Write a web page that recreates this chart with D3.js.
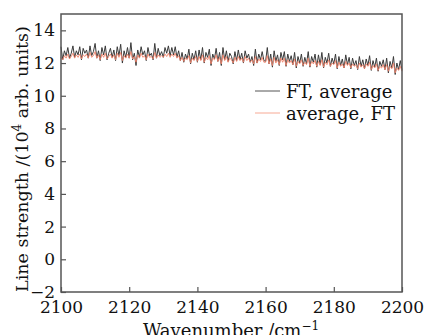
<!DOCTYPE html>
<html>
<head>
<meta charset="utf-8">
<script src="https://cdn.jsdelivr.net/npm/d3@7"></script>
<style>
  html, body { margin: 0; padding: 0; background: #fff; }
  svg { display: block; }
  svg text { font-family: "DejaVu Serif", "Liberation Serif", serif; }
</style>
</head>
<body>
<div id="chart"></div>
<script>
// wavenumber grid: 2100 .. 2200 cm^-1, one value every 0.5
const waveStart = 2100;
const waveStep = 0.5;

// FT, average (dark line), 10^4 arb. units
const ftAverage = [
  13.0, 12.2, 12.75, 12.45, 12.95, 12.3, 12.6, 13.05, 12.35, 12.75,
  12.5, 13.0, 12.2, 12.9, 12.6, 12.8, 12.3, 13.05, 12.45, 12.7,
  13.2, 12.3, 12.75, 12.15, 12.95, 12.5, 13.05, 12.2, 12.6, 12.9,
  12.35, 12.8, 12.15, 13.0, 12.45, 13.15, 12.0, 12.75, 12.35, 12.95,
  12.3, 13.25, 12.2, 12.6, 11.85, 12.8, 12.35, 13.0, 12.5, 12.75,
  12.15, 12.95, 12.45, 12.6, 12.2, 13.2, 12.3, 12.9, 12.45, 12.7,
  12.35, 12.95, 12.6, 13.05, 12.45, 12.95, 12.5, 13.0, 12.35, 12.75,
  12.15, 12.65, 12.05, 12.55, 12.25, 12.85, 11.95, 12.6, 12.2, 12.75,
  12.05, 12.8, 12.2, 12.95, 12.0, 12.65, 12.35, 12.85, 11.85, 12.55,
  12.25, 12.9, 12.1, 12.65, 11.85, 12.95, 12.2, 12.75, 12.1, 12.6,
  12.4, 11.95, 12.7, 12.15, 12.8, 12.2, 12.6, 12.0, 12.75, 12.3,
  12.55, 12.05, 12.4, 11.85, 12.85, 12.0, 12.55, 12.2, 12.7, 12.15,
  12.1, 12.95, 11.95, 12.55, 11.75, 12.75, 12.1, 12.5, 11.85, 12.65,
  12.2, 12.7, 11.8, 12.55, 12.1, 12.45, 11.9, 12.65, 11.7, 12.4,
  12.0, 12.55, 11.8, 12.35, 11.95, 12.7, 11.75, 12.4, 12.05, 12.55,
  11.75, 12.5, 11.9, 12.65, 11.7, 12.35, 12.0, 12.6, 11.8, 12.3,
  11.95, 12.55, 11.65, 12.4, 11.85, 12.25, 11.7, 12.5, 11.9, 12.35,
  11.65, 12.3, 11.85, 12.15, 11.6, 12.4, 11.8, 12.2, 11.65, 12.25,
  11.85, 12.45, 11.55, 12.15, 11.75, 12.3, 11.5, 12.1, 11.8, 12.2,
  11.6, 12.3, 11.4, 12.1, 11.7, 12.4, 11.3, 12.0, 11.6, 12.15,
  11.55
];

// average, FT (salmon line)
const averageFt = [
  12.35, 12.2, 12.45, 12.3, 12.55, 12.25, 12.4, 12.6, 12.3, 12.5,
  12.35, 12.55, 12.25, 12.5, 12.4, 12.55, 12.3, 12.65, 12.35, 12.45,
  12.7, 12.3, 12.5, 12.2, 12.55, 12.35, 12.6, 12.25, 12.4, 12.55,
  12.3, 12.5, 12.2, 12.6, 12.35, 12.65, 12.15, 12.45, 12.3, 12.55,
  12.3, 12.7, 12.25, 12.4, 12.05, 12.5, 12.3, 12.6, 12.35, 12.45,
  12.2, 12.55, 12.35, 12.4, 12.25, 12.65, 12.3, 12.5, 12.35, 12.45,
  12.35, 12.55, 12.4, 12.6, 12.35, 12.55, 12.4, 12.6, 12.3, 12.45,
  12.15, 12.35, 12.1, 12.3, 12.2, 12.45, 12.0, 12.3, 12.15, 12.4,
  12.1, 12.4, 12.15, 12.5, 12.05, 12.35, 12.2, 12.45, 11.95, 12.3,
  12.2, 12.5, 12.1, 12.35, 11.95, 12.5, 12.15, 12.4, 12.05, 12.3,
  12.2, 12.0, 12.35, 12.1, 12.4, 12.15, 12.3, 12.05, 12.4, 12.15,
  12.3, 12.05, 12.2, 11.95, 12.4, 12.0, 12.25, 12.1, 12.35, 12.05,
  12.05, 12.45, 11.95, 12.25, 11.85, 12.35, 12.0, 12.2, 11.9, 12.3,
  12.05, 12.3, 11.85, 12.2, 12.0, 12.15, 11.9, 12.25, 11.8, 12.1,
  11.95, 12.2, 11.85, 12.05, 11.9, 12.3, 11.8, 12.1, 11.95, 12.15,
  11.8, 12.1, 11.85, 12.2, 11.75, 12.05, 11.9, 12.2, 11.8, 12.0,
  11.9, 12.15, 11.7, 12.05, 11.8, 11.95, 11.7, 12.1, 11.85, 12.0,
  11.7, 11.95, 11.8, 11.9, 11.65, 12.0, 11.75, 11.9, 11.65, 11.95,
  11.8, 12.05, 11.6, 11.85, 11.7, 11.95, 11.55, 11.8, 11.7, 11.9,
  11.6, 11.9, 11.5, 11.8, 11.65, 12.0, 11.4, 11.7, 11.55, 11.8,
  11.5
];

const xTicks = [2100, 2120, 2140, 2160, 2180, 2200];
const yTicks = [-2, 0, 2, 4, 6, 8, 10, 12, 14];
const legendLabels = ["FT, average", "average, FT"];

const width = 425, height = 335;
const margin = {top: 14, right: 23, bottom: 43, left: 61};
const w = width - margin.left - margin.right;
const h = height - margin.top - margin.bottom;

const svg = d3.select("#chart").append("svg")
  .attr("width", width)
  .attr("height", height);

const g = svg.append("g")
  .attr("transform", "translate(" + margin.left + "," + margin.top + ")");

const x = d3.scaleLinear().domain([2100, 2200]).range([0, w]);
const y = d3.scaleLinear().domain([-2, 15]).range([h, 0]);

const fmt = d => d < 0 ? "\u2212" + Math.abs(d) : String(d);

// x axis, ticks pointing in
const xAxis = g.append("g")
  .attr("transform", "translate(0," + h + ")")
  .call(d3.axisBottom(x).tickValues(xTicks).tickSizeInner(-5).tickSizeOuter(0).tickPadding(9).tickFormat(fmt));

// y axis, ticks pointing in
const yAxis = g.append("g")
  .call(d3.axisLeft(y).tickValues(yTicks).tickSizeInner(-5).tickSizeOuter(0).tickPadding(6).tickFormat(fmt));

[xAxis, yAxis].forEach(a => {
  a.attr("font-family", null);
  a.select(".domain").remove();
  a.selectAll(".tick line").attr("stroke", "#555").attr("stroke-width", 1.2);
  a.selectAll(".tick text")
    .attr("fill", "#111")
    .style("font-size", "17px");
});

const line = d3.line()
  .x((d, i) => x(waveStart + i * waveStep))
  .y(d => y(d));

g.append("path")
  .datum(ftAverage)
  .attr("fill", "none")
  .attr("stroke", "#3a3a3a")
  .attr("stroke-width", 1)
  .attr("d", line);

g.append("path")
  .datum(averageFt)
  .attr("fill", "none")
  .attr("stroke", "#f2836b")
  .attr("stroke-width", 0.9)
  .attr("d", line);

// frame
g.append("rect")
  .attr("width", w)
  .attr("height", h)
  .attr("fill", "none")
  .attr("stroke", "#555")
  .attr("stroke-width", 1.5);

// legend
const legendColors = ["#555", "#f7a994"];
const legend = g.append("g");
legendLabels.forEach((lab, i) => {
  const ly = 77 + i * 22;
  legend.append("line")
    .attr("x1", 194).attr("x2", 219)
    .attr("y1", ly).attr("y2", ly)
    .attr("stroke", legendColors[i])
    .attr("stroke-width", 1);
  legend.append("text")
    .attr("x", 225).attr("y", ly + 7)
    .attr("fill", "#111")
    .style("font-size", "18px")
    .text(lab);
});

// axis titles
svg.append("text")
  .attr("x", 231)
  .attr("y", 337)
  .attr("text-anchor", "middle")
  .attr("fill", "#111")
  .style("font-size", "18px")
  .html('Wavenumber /cm<tspan dy="-7" font-size="12">\u22121</tspan>');

svg.append("text")
  .attr("transform", "translate(28,159) rotate(-90)")
  .attr("text-anchor", "middle")
  .attr("fill", "#111")
  .style("font-size", "17.5px")
  .html('Line strength /(10<tspan dy="-7" font-size="12">4</tspan><tspan dy="7"> arb. units)</tspan>');
</script>
</body>
</html>
